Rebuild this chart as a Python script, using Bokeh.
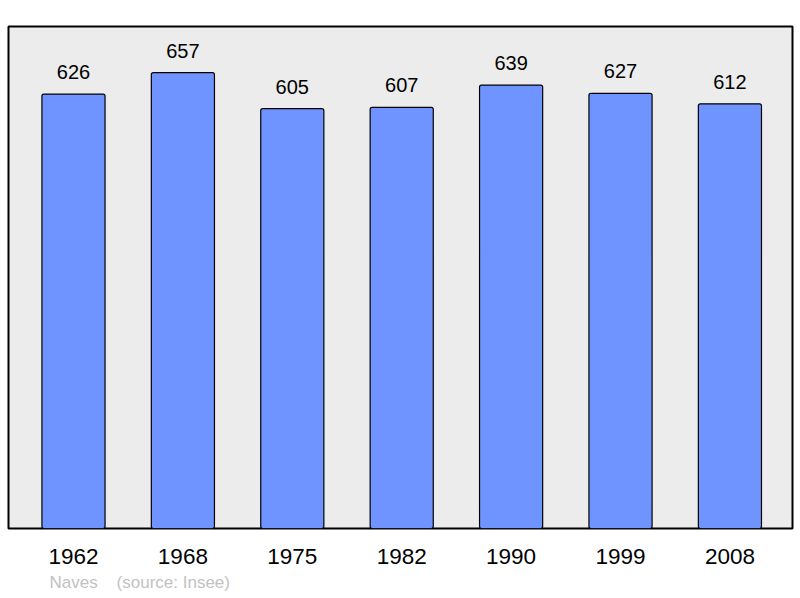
from bokeh.plotting import figure
from bokeh.models import ColumnDataSource, Range1d, FixedTicker, Title
from bokeh.core.properties import value
from bokeh.embed import file_html
from bokeh.resources import INLINE

years = ["1962", "1968", "1975", "1982", "1990", "1999", "2008"]
population = [626, 657, 605, 607, 639, 627, 612]
commune = "Naves"
source_note = "(source: Insee)"

idx = list(range(len(years)))
src = ColumnDataSource(dict(x=idx, top=population, lab=[str(v) for v in population]))

p = figure(width=800, height=598, output_backend="svg", toolbar_location=None,
           x_range=Range1d(-0.594, 6.572), y_range=Range1d(0, 723.4),
           min_border_left=8, min_border_right=8, min_border_top=26, min_border_bottom=70)
p.background_fill_color = "#ececec"
p.border_fill_color = "white"
p.outline_line_color = "black"
p.outline_line_width = 2
p.grid.visible = False
p.yaxis.visible = False

p.vbar(x="x", top="top", bottom=0, width=0.577, source=src,
       fill_color="#7094ff", line_color="black", line_width=1.2, border_radius=2)
p.text(x="x", y="top", text="lab", source=src, text_align="center",
       text_baseline="alphabetic", y_offset=-22, text_font=value("Liberation Sans"),
       text_font_size="20px", text_color="black")

ax = p.xaxis[0]
ax.ticker = FixedTicker(ticks=idx)
ax.major_label_overrides = {i: y for i, y in zip(idx, years)}
ax.axis_line_color = None
ax.major_tick_line_color = None
ax.minor_tick_line_color = None
ax.major_tick_out = 0
ax.major_tick_in = 0
ax.major_label_standoff = 20
ax.major_label_text_font = "Liberation Sans"
ax.major_label_text_font_size = "22.5px"
ax.major_label_text_color = "black"

footer = Title(text=commune + "\u00a0" * 4 + source_note, align="left", offset=41,
               text_font="Liberation Sans", text_font_size="17px",
               text_font_style="normal", text_color="#c2c2c2", standoff=8)
p.add_layout(footer, "below")

open("out.html", "w").write(file_html(p, INLINE))
